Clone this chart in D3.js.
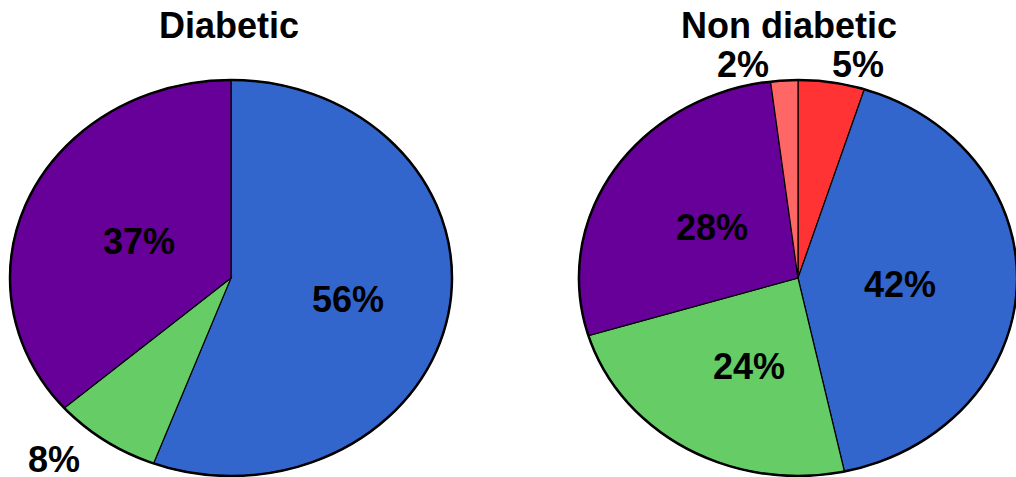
<!DOCTYPE html>
<html>
<head>
<meta charset="utf-8">
<script src="https://cdn.jsdelivr.net/npm/d3@7"></script>
<style>
	body { margin: 0; background: #fff; }
	text { font-family: "Liberation Sans", Arial, sans-serif; font-weight: bold; fill: #000; }
</style>
</head>
<body>
<div id="chart"></div>
<script>
// data
var titles = ["Diabetic", "Non diabetic"];
var diabeticCats = ["blue", "green", "purple"];
var diabeticVals = [55.7, 7.9, 36.4];
var diabeticLabels = ["56%", "8%", "37%"];
var nonCats = ["red", "blue", "green", "purple", "pink"];
var nonVals = [4.9, 41.7, 23.7, 27.7, 2.0];
var nonLabels = ["5%", "42%", "24%", "28%", "2%"];

(function() {
	var width = 1016;
	var height = 477;
	var svg = d3.select("#chart")
		.append("svg")
		.attr("width", width)
		.attr("height", height);

	var color = d3.scaleOrdinal()
		.domain(["blue", "green", "purple", "red", "pink"])
		.range(["#3366CC", "#66CC66", "#660099", "#FF3333", "#FF6666"]);

	var pie = d3.pie().sort(null).value(function(d) { return d.v; });

	// label offsets from the pie centre, per slice
	var pies = [
		{ title: titles[0], cats: diabeticCats, vals: diabeticVals, labels: diabeticLabels,
		  cx: 231, cy: 278, rx: 221, ry: 198, tx: 229,
		  offs: [[117, 21], [-177, 181], [-92, -37]] },
		{ title: titles[1], cats: nonCats, vals: nonVals, labels: nonLabels,
		  cx: 798, cy: 278, rx: 219, ry: 198, tx: 789,
		  offs: [[60, -214], [102, 6], [-49, 88], [-86, -51], [-55, -214]] }
	];

	pies.forEach(function(p) {
		var rows = p.cats.map(function(c, i) { return { c: c, v: p.vals[i], l: p.labels[i] }; });
		var arcs = pie(rows);
		var arc = d3.arc().innerRadius(0).outerRadius(p.rx);
		var outer = d3.arc().innerRadius(p.rx).outerRadius(p.rx).startAngle(0).endAngle(2 * Math.PI);

		var g = svg.append("g")
			.attr("transform", "translate(" + p.cx + "," + p.cy + ") scale(1," + (p.ry / p.rx) + ")");

		g.selectAll("path.slice")
			.data(arcs)
			.enter()
			.append("path")
			.attr("class", "slice")
			.attr("d", arc)
			.attr("fill", function(d) { return color(d.data.c); })
			.attr("stroke", "#000")
			.attr("stroke-width", 1.2)
			.attr("vector-effect", "non-scaling-stroke");

		g.append("path")
			.attr("d", outer)
			.attr("fill", "none")
			.attr("stroke", "#000")
			.attr("stroke-width", 2.5)
			.attr("vector-effect", "non-scaling-stroke");

		svg.append("text")
			.attr("x", p.tx)
			.attr("y", 25)
			.attr("text-anchor", "middle")
			.attr("dominant-baseline", "central")
			.style("font-size", "36px")
			.text(p.title);

		svg.selectAll(null)
			.data(arcs)
			.enter()
			.append("text")
			.attr("x", function(d, i) { return p.cx + p.offs[i][0]; })
			.attr("y", function(d, i) { return p.cy + p.offs[i][1]; })
			.attr("text-anchor", "middle")
			.attr("dominant-baseline", "central")
			.style("font-size", "36px")
			.text(function(d) { return d.data.l; });
	});
})();
</script>
</body>
</html>
